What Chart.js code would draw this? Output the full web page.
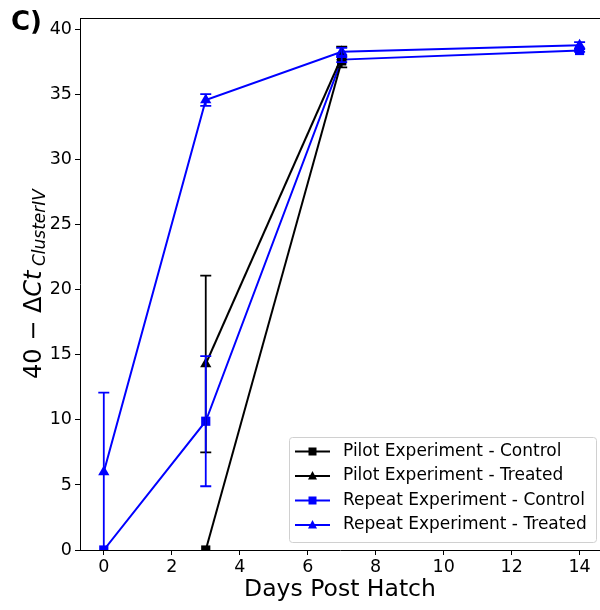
<!DOCTYPE html>
<html>
<head>
<meta charset="utf-8">
<script src="https://cdn.jsdelivr.net/npm/chart.js@4/dist/chart.umd.min.js"></script>
<style>
body { margin: 0; background: #fff; overflow: hidden; }
#grafico { display: block; }
</style>
</head>
<body>
<canvas id="grafico" width="600" height="610"></canvas>
<script>
// datos
const xTicks = [0, 2, 4, 6, 8, 10, 12, 14];
const yTicks = [0, 5, 10, 15, 20, 25, 30, 35, 40];

const pilotDays = [3, 7];
const pilotControl = [0, 37.6];
const pilotControlErr = [0, 0];
const pilotTreated = [14.3, 37.9];
const pilotTreatedErr = [6.8, 0.8];

const repeatDays = [0, 3, 7, 14];
const repeatControl = [0, 9.9, 37.7, 38.4];
const repeatControlErr = [0, 5.0, 0.2, 0.1];
const repeatTreated = [6.0, 34.6, 38.3, 38.8];
const repeatTreatedErr = [6.1, 0.45, 0.3, 0.25];

const FONT = "'DejaVu Sans', sans-serif";

function serie(label, dias, valores, errores, color, marker) {
  return {
    label,
    data: dias.map((d, i) => ({ x: d, y: valores[i] })),
    errores,
    borderColor: color,
    backgroundColor: color,
    borderWidth: 2,
    pointStyle: marker,
    pointRadius: 6.5,
    pointHoverRadius: 6.5,
    pointBorderWidth: 0,
    tension: 0,
    fill: false
  };
}

const datasets = [
  serie('Pilot Experiment - Control', pilotDays, pilotControl, pilotControlErr, '#000000', 'rect'),
  serie('Pilot Experiment - Treated', pilotDays, pilotTreated, pilotTreatedErr, '#000000', 'triangle'),
  serie('Repeat Experiment - Control', repeatDays, repeatControl, repeatControlErr, '#0000ff', 'rect'),
  serie('Repeat Experiment - Treated', repeatDays, repeatTreated, repeatTreatedErr, '#0000ff', 'triangle')
];

// barras de error, usando las escalas del grafico
const barrasError = {
  id: 'barrasError',
  afterDatasetsDraw(chart) {
    const { ctx, chartArea, scales: { x, y } } = chart;
    ctx.save();
    ctx.beginPath();
    ctx.rect(chartArea.left, chartArea.top, chartArea.width, chartArea.height);
    ctx.clip();
    chart.data.datasets.forEach(ds => {
      ctx.strokeStyle = ds.borderColor;
      ctx.lineWidth = 1.8;
      ds.data.forEach((p, i) => {
        const e = ds.errores[i];
        if (!e) return;
        const px = x.getPixelForValue(p.x);
        const y1 = y.getPixelForValue(p.y + e);
        const y2 = y.getPixelForValue(p.y - e);
        ctx.beginPath();
        ctx.moveTo(px, y1); ctx.lineTo(px, y2);
        ctx.moveTo(px - 5.5, y1); ctx.lineTo(px + 5.5, y1);
        ctx.moveTo(px - 5.5, y2); ctx.lineTo(px + 5.5, y2);
        ctx.stroke();
      });
    });
    ctx.restore();
  }
};

// marco superior, titulo del eje y, leyenda y la letra del panel
const extras = {
  id: 'extras',
  afterDraw(chart) {
    const { ctx, chartArea: a } = chart;
    ctx.save();
    ctx.strokeStyle = '#000';
    ctx.lineWidth = 1;
    ctx.beginPath();
    ctx.moveTo(a.left, a.top + 0.5);
    ctx.lineTo(a.right, a.top + 0.5);
    ctx.stroke();

    // panel
    ctx.fillStyle = '#000';
    ctx.font = 'bold 26px ' + FONT;
    ctx.textBaseline = 'alphabetic';
    ctx.textAlign = 'left';
    ctx.fillText('C)', 11, 30);

    // titulo eje y con subindice
    ctx.save();
    ctx.translate(41, (a.top + a.bottom) / 2);
    ctx.rotate(-Math.PI / 2);
    const partes = [
      { t: '40 \u2212 \u0394', f: '24px ' + FONT, dy: 0 },
      { t: 'Ct', f: 'italic 24px ' + FONT, dy: 0 },
      { t: ' ', f: '14px ' + FONT, dy: 0 },
      { t: 'ClusterIV', f: 'italic 17px ' + FONT, dy: 4 }
    ];
    let total = 0;
    partes.forEach(p => { ctx.font = p.f; p.w = ctx.measureText(p.t).width; total += p.w; });
    let cx = -total / 2;
    partes.forEach(p => {
      ctx.font = p.f;
      ctx.fillText(p.t, cx, p.dy);
      cx += p.w;
    });
    ctx.restore();

    // leyenda
    const lx = 289, ly = 437, lw = 307, lh = 105;
    ctx.fillStyle = 'rgba(255,255,255,0.8)';
    ctx.strokeStyle = '#d0d0d0';
    ctx.lineWidth = 1;
    ctx.beginPath();
    ctx.roundRect(lx + 0.5, ly + 0.5, lw, lh, 3);
    ctx.fill();
    ctx.stroke();
    ctx.font = '17px ' + FONT;
    ctx.textBaseline = 'middle';
    chart.data.datasets.forEach((ds, i) => {
      const yy = ly + 14.5 + i * 24.5;
      ctx.strokeStyle = ds.borderColor;
      ctx.fillStyle = ds.borderColor;
      ctx.lineWidth = 2;
      ctx.beginPath();
      ctx.moveTo(295, yy); ctx.lineTo(330, yy);
      ctx.stroke();
      if (ds.pointStyle === 'rect') {
        ctx.fillRect(308.5, yy - 4, 8, 8);
      } else {
        ctx.beginPath();
        ctx.moveTo(312.5, yy - 5);
        ctx.lineTo(317, yy + 3.5);
        ctx.lineTo(308, yy + 3.5);
        ctx.closePath();
        ctx.fill();
      }
      ctx.fillStyle = '#000';
      ctx.fillText(ds.label, 343, yy);
    });
    ctx.restore();
  }
};

new Chart(document.getElementById('grafico').getContext('2d'), {
  type: 'line',
  data: { datasets },
  options: {
    responsive: false,
    animation: false,
    layout: { autoPadding: false, padding: { top: 18, right: 0, left: 0, bottom: 6 } },
    plugins: {
      legend: { display: false },
      tooltip: { enabled: false }
    },
    scales: {
      x: {
        type: 'linear',
        min: -0.7,
        max: 14.6,
        afterBuildTicks: s => { s.ticks = xTicks.map(v => ({ value: v })); },
        afterFit: s => { s.height = 54; s.paddingLeft = 0; s.paddingRight = 0; },
        grid: { drawOnChartArea: false, tickLength: 5, tickColor: '#000', color: '#000' },
        border: { color: '#000', width: 1 },
        ticks: { color: '#000', font: { family: FONT, size: 17.5 }, padding: 2, maxRotation: 0 },
        title: {
          display: true,
          text: 'Days Post Hatch',
          color: '#000',
          font: { family: FONT, size: 23.5 },
          padding: { top: 0, bottom: 0 }
        }
      },
      y: {
        type: 'linear',
        min: 0,
        max: 40.9,
        afterBuildTicks: s => { s.ticks = yTicks.map(v => ({ value: v })); },
        afterFit: s => { s.width = 80; },
        grid: { drawOnChartArea: false, tickLength: 5, tickColor: '#000', color: '#000' },
        border: { color: '#000', width: 1 },
        ticks: { color: '#000', font: { family: FONT, size: 17.5 }, padding: 3 }
      }
    }
  },
  plugins: [barrasError, extras]
});
</script>
</body>
</html>
